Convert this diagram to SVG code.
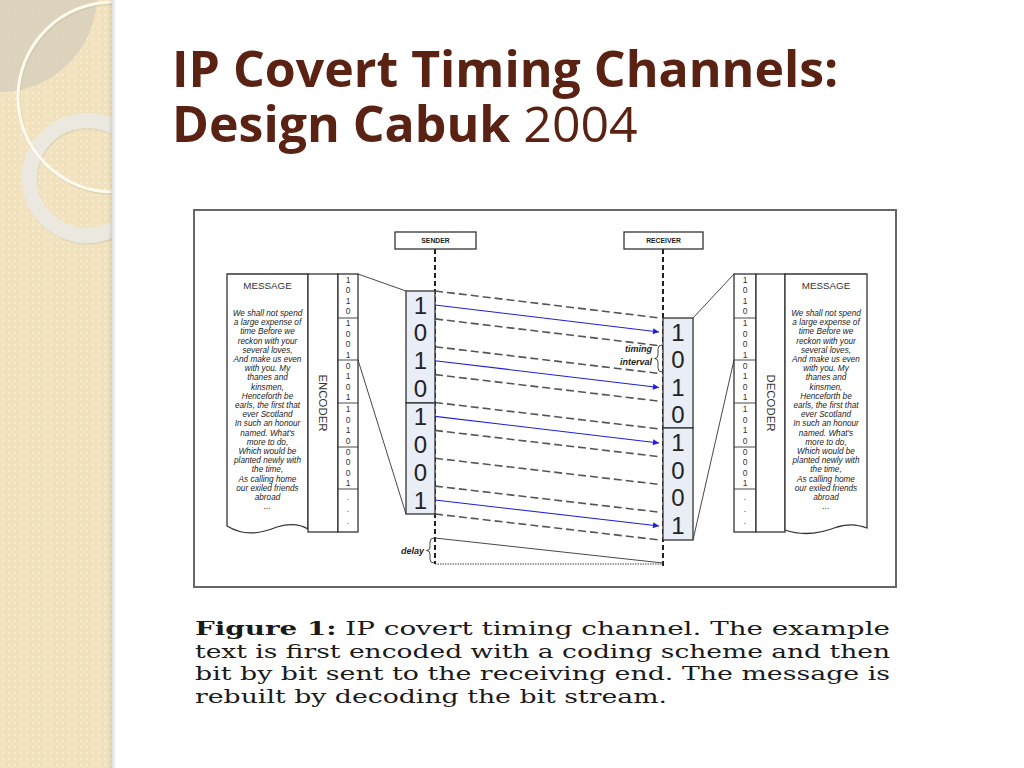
<svg xmlns="http://www.w3.org/2000/svg" width="1024" height="768" viewBox="0 0 1024 768">
<defs>
  <pattern id="tex" width="6" height="6" patternUnits="userSpaceOnUse">
    <rect width="6" height="6" fill="#f1e2bd"/>
    <circle cx="3" cy="3" r="1.3" fill="#f6ebd0"/>
  </pattern>
  <linearGradient id="edge" x1="0" y1="0" x2="1" y2="0">
    <stop offset="0" stop-color="#000" stop-opacity="0"/>
    <stop offset="0.6" stop-color="#000" stop-opacity="0.12"/>
    <stop offset="1" stop-color="#000" stop-opacity="0"/>
  </linearGradient>
  <clipPath id="side"><rect x="0" y="0" width="112" height="768"/></clipPath>
  <marker id="arr" viewBox="0 0 10 10" refX="10" refY="5" markerWidth="8" markerHeight="6" markerUnits="userSpaceOnUse" orient="auto">
    <path d="M0,0 L10,5 L0,10 Z" fill="#1f1fe0"/>
  </marker>
  <style>
    .title{font-family:"Open Sans","Noto Sans",sans-serif;font-weight:700;font-size:50px;fill:#5a2213}
    .box{fill:#fff;stroke:#333;stroke-width:1.3}
    .big{fill:#e9edf6;stroke:#333;stroke-width:1.3}
    .lbl{font-family:"Liberation Sans",Arial,sans-serif;font-weight:700;font-size:6.8px;fill:#222;text-anchor:middle}
    .msgh{font-family:"Liberation Sans",Arial,sans-serif;font-size:9.8px;fill:#333;text-anchor:middle}
    .msg{font-family:"Liberation Sans",Arial,sans-serif;font-style:italic;font-size:8.2px;fill:#222;text-anchor:middle}
    .bit{font-family:"Liberation Sans",Arial,sans-serif;font-size:8.5px;fill:#333;text-anchor:middle}
    .bigbit{font-family:"Liberation Sans",Arial,sans-serif;font-size:24px;fill:#222;text-anchor:middle}
    .rot{font-family:"Liberation Sans",Arial,sans-serif;font-size:10.5px;fill:#333;text-anchor:middle}
    .note{font-family:"Liberation Sans",Arial,sans-serif;font-style:italic;font-weight:700;font-size:9px;fill:#222}
    .vline{stroke:#222;stroke-width:2;stroke-dasharray:5 3;fill:none}
    .pkt{stroke:#555;stroke-width:1.6;stroke-dasharray:8 4;fill:none}
    .bl{stroke:#1f1fe0;stroke-width:1.1;fill:none}
    .thin{stroke:#333;stroke-width:0.9;fill:none}
    .cap{font-family:"DejaVu Serif","Liberation Serif",serif;font-size:18px;fill:#1a1a1a}
  </style>
</defs>

<!-- background -->
<rect width="1024" height="768" fill="#fff"/>
<g id="sidebar" clip-path="url(#side)">
  <rect x="0" y="0" width="112" height="768" fill="url(#tex)"/>
  <circle cx="0" cy="-5" r="97" fill="#d9cfbc" opacity="0.85"/>
  <circle cx="87" cy="178" r="57.5" fill="none" stroke="#c9c1ae" stroke-width="15" opacity="0.4" transform="translate(1,1.5)"/>
  <circle cx="87" cy="178" r="57.5" fill="none" stroke="#ebe8df" stroke-width="15"/>
  <circle cx="113" cy="97" r="95" fill="none" stroke="#c8bfa8" stroke-width="3" opacity="0.5" transform="translate(1,1.5)"/>
  <circle cx="113" cy="97" r="95" fill="none" stroke="#fffaee" stroke-width="3"/>
</g>
<rect x="108" y="0" width="8" height="768" fill="url(#edge)"/>

<!-- title -->
<g id="title">
  <text class="title" x="172" y="87">IP Covert Timing Channels:</text>
  <text class="title" x="172" y="142">Design Cabuk <tspan font-weight="400">2004</tspan></text>
</g>

<!-- figure frame -->
<rect x="194" y="210" width="702" height="377" fill="#fff" stroke="#666" stroke-width="2"/>

<g id="connectors">
  <line class="vline" x1="435" y1="249" x2="435" y2="564"/>
  <line class="vline" x1="663" y1="249" x2="663" y2="567"/>
  <line class="pkt" x1="435" y1="291" x2="660" y2="318"/>
  <line class="pkt" x1="435" y1="318.9" x2="660" y2="345.75"/>
  <line class="pkt" x1="435" y1="346.75" x2="660" y2="373.5"/>
  <line class="pkt" x1="435" y1="374.6" x2="660" y2="401.25"/>
  <line class="pkt" x1="435" y1="402.5" x2="660" y2="429"/>
  <line class="pkt" x1="435" y1="430.4" x2="660" y2="456.75"/>
  <line class="pkt" x1="435" y1="458.25" x2="660" y2="484.5"/>
  <line class="pkt" x1="435" y1="486.1" x2="660" y2="512.25"/>
  <line class="pkt" x1="435" y1="514" x2="660" y2="540"/>
  <line class="bl" x1="435" y1="305" x2="659" y2="332" marker-end="url(#arr)"/>
  <line class="bl" x1="435" y1="360.7" x2="659" y2="387.5" marker-end="url(#arr)"/>
  <line class="bl" x1="435" y1="416.4" x2="659" y2="443" marker-end="url(#arr)"/>
  <line class="bl" x1="435" y1="500" x2="659" y2="526" marker-end="url(#arr)"/>
  <line class="thin" x1="435" y1="538" x2="663" y2="563"/>
  <line x1="435" y1="564" x2="663" y2="564" stroke="#444" stroke-width="1" stroke-dasharray="1.5 1"/>
  <line class="thin" x1="358" y1="274" x2="406" y2="291" stroke-width="1.1"/>
  <line class="thin" x1="358" y1="360" x2="406" y2="514" stroke-width="1.1"/>
  <line class="thin" x1="693" y1="318" x2="734" y2="274" stroke-width="1.1"/>
  <line class="thin" x1="693" y1="540" x2="734" y2="360" stroke-width="1.1"/>
  <path class="thin" stroke-width="1.1" d="M662,345 Q658,345 658,349 V355 Q658,358.5 654.5,358.5 Q658,358.5 658,362 V368 Q658,372 662,372"/>
  <path class="thin" stroke-width="1.1" d="M434,538 Q430,538 430,542 V547 Q430,550.5 426.5,550.5 Q430,550.5 430,554 V559 Q430,563 434,563"/>
</g>

<g id="sender">
  <rect class="box" x="395" y="232" width="81" height="17"/>
  <text class="lbl" x="435.5" y="243">SENDER</text>
</g>
<g id="receiver">
  <rect class="box" x="624" y="232" width="79" height="17"/>
  <text class="lbl" x="663.5" y="243">RECEIVER</text>
</g>

<g id="msg-left">
  <path class="box" d="M227,274 H308 V529 C300,524 290,523 277,527 C262,533 245,537 227,526 Z"/>
  <text class="msgh" x="267.5" y="288.5">MESSAGE</text>
  <g class="msg">
    <text x="267.5" y="316">We shall not spend</text>
    <text x="267.5" y="325.2">a large expense of</text>
    <text x="267.5" y="334.4">time Before we</text>
    <text x="267.5" y="343.6">reckon with your</text>
    <text x="267.5" y="352.8">several loves,</text>
    <text x="267.5" y="362">And make us even</text>
    <text x="267.5" y="371.2">with you. My</text>
    <text x="267.5" y="380.4">thanes and</text>
    <text x="267.5" y="389.6">kinsmen,</text>
    <text x="267.5" y="398.8">Henceforth be</text>
    <text x="267.5" y="408">earls, the first that</text>
    <text x="267.5" y="417.2">ever Scotland</text>
    <text x="267.5" y="426.4">In such an honour</text>
    <text x="267.5" y="435.6">named. What's</text>
    <text x="267.5" y="444.8">more to do,</text>
    <text x="267.5" y="454">Which would be</text>
    <text x="267.5" y="463.2">planted newly with</text>
    <text x="267.5" y="472.4">the time,</text>
    <text x="267.5" y="481.6">As calling home</text>
    <text x="267.5" y="490.8">our exiled friends</text>
    <text x="267.5" y="500">abroad</text>
    <text x="267.5" y="509.2">...</text>
  </g>
</g>

<g id="encoder">
  <rect class="box" x="308" y="274" width="30" height="258"/>
  <text class="rot" transform="translate(323,403) rotate(90)" y="3.7" textLength="57" lengthAdjust="spacingAndGlyphs">ENCODER</text>
</g>

<g id="bits-left">
  <rect class="box" x="338" y="274" width="20" height="258"/>
  <line class="thin" x1="338" y1="318" x2="358" y2="318"/>
  <line class="thin" x1="338" y1="360" x2="358" y2="360"/>
  <line class="thin" x1="338" y1="403" x2="358" y2="403"/>
  <line class="thin" x1="338" y1="447" x2="358" y2="447"/>
  <line class="thin" x1="338" y1="489" x2="358" y2="489"/>
  <g class="bit">
    <text x="348" y="282.5">1</text><text x="348" y="293">0</text><text x="348" y="303.5">1</text><text x="348" y="314">0</text>
    <text x="348" y="326">1</text><text x="348" y="336.5">0</text><text x="348" y="347">0</text><text x="348" y="357.5">1</text>
    <text x="348" y="368.5">0</text><text x="348" y="379">1</text><text x="348" y="389.5">0</text><text x="348" y="400">1</text>
    <text x="348" y="412">1</text><text x="348" y="422.5">0</text><text x="348" y="433">1</text><text x="348" y="443.5">0</text>
    <text x="348" y="454.5">0</text><text x="348" y="465">0</text><text x="348" y="475.5">0</text><text x="348" y="486">1</text>
    <text x="348" y="500">.</text><text x="348" y="512">.</text><text x="348" y="524">.</text>
  </g>
</g>

<g id="sender-bits">
  <rect class="big" x="406" y="291" width="29" height="112"/>
  <rect class="big" x="406" y="403" width="29" height="111"/>
  <g class="bigbit">
    <text x="420.5" y="313.5">1</text><text x="420.5" y="341">0</text><text x="420.5" y="368.5">1</text><text x="420.5" y="396.5">0</text>
    <text x="420.5" y="425">1</text><text x="420.5" y="452.5">0</text><text x="420.5" y="480.5">0</text><text x="420.5" y="508.5">1</text>
  </g>
</g>

<g id="receiver-bits">
  <rect class="big" x="663" y="318" width="30" height="110"/>
  <rect class="big" x="663" y="428" width="30" height="112"/>
  <g class="bigbit">
    <text x="678" y="340.5">1</text><text x="678" y="368">0</text><text x="678" y="395.5">1</text><text x="678" y="423">0</text>
    <text x="678" y="450.5">1</text><text x="678" y="478.5">0</text><text x="678" y="505.5">0</text><text x="678" y="533.5">1</text>
  </g>
</g>

<g id="bits-right">
  <rect class="box" x="734" y="274" width="22" height="258"/>
  <line class="thin" x1="734" y1="318" x2="756" y2="318"/>
  <line class="thin" x1="734" y1="360" x2="756" y2="360"/>
  <line class="thin" x1="734" y1="403" x2="756" y2="403"/>
  <line class="thin" x1="734" y1="447" x2="756" y2="447"/>
  <line class="thin" x1="734" y1="489" x2="756" y2="489"/>
  <g class="bit">
    <text x="745" y="282.5">1</text><text x="745" y="293">0</text><text x="745" y="303.5">1</text><text x="745" y="314">0</text>
    <text x="745" y="326">1</text><text x="745" y="336.5">0</text><text x="745" y="347">0</text><text x="745" y="357.5">1</text>
    <text x="745" y="368.5">0</text><text x="745" y="379">1</text><text x="745" y="389.5">0</text><text x="745" y="400">1</text>
    <text x="745" y="412">1</text><text x="745" y="422.5">0</text><text x="745" y="433">1</text><text x="745" y="443.5">0</text>
    <text x="745" y="454.5">0</text><text x="745" y="465">0</text><text x="745" y="475.5">0</text><text x="745" y="486">1</text>
    <text x="745" y="500">.</text><text x="745" y="512">.</text><text x="745" y="524">.</text>
  </g>
</g>

<g id="decoder">
  <rect class="box" x="756" y="274" width="29" height="258"/>
  <text class="rot" transform="translate(770.5,403) rotate(90)" y="3.7" textLength="57" lengthAdjust="spacingAndGlyphs">DECODER</text>
</g>

<g id="msg-right">
  <path class="box" d="M785,274 H867 V528 C855,524 848,524 837,527 C822,533 805,537 785,530 Z"/>
  <text class="msgh" x="826" y="288.5">MESSAGE</text>
  <g class="msg">
    <text x="826" y="316">We shall not spend</text>
    <text x="826" y="325.2">a large expense of</text>
    <text x="826" y="334.4">time Before we</text>
    <text x="826" y="343.6">reckon with your</text>
    <text x="826" y="352.8">several loves,</text>
    <text x="826" y="362">And make us even</text>
    <text x="826" y="371.2">with you. My</text>
    <text x="826" y="380.4">thanes and</text>
    <text x="826" y="389.6">kinsmen,</text>
    <text x="826" y="398.8">Henceforth be</text>
    <text x="826" y="408">earls, the first that</text>
    <text x="826" y="417.2">ever Scotland</text>
    <text x="826" y="426.4">In such an honour</text>
    <text x="826" y="435.6">named. What's</text>
    <text x="826" y="444.8">more to do,</text>
    <text x="826" y="454">Which would be</text>
    <text x="826" y="463.2">planted newly with</text>
    <text x="826" y="472.4">the time,</text>
    <text x="826" y="481.6">As calling home</text>
    <text x="826" y="490.8">our exiled friends</text>
    <text x="826" y="500">abroad</text>
    <text x="826" y="509.2">...</text>
  </g>
</g>

<g id="labels">
  <text class="note" x="652" y="352" text-anchor="end">timing</text>
  <text class="note" x="652" y="365" text-anchor="end">interval</text>
  <text class="note" x="424" y="554" text-anchor="end">delay</text>
</g>

<g id="caption">
  <text class="cap" x="195" y="635" textLength="695" lengthAdjust="spacingAndGlyphs"><tspan font-weight="700">Figure 1:</tspan> IP covert timing channel.  The example</text>
  <text class="cap" x="195" y="657.5" textLength="695" lengthAdjust="spacingAndGlyphs">text is first encoded with a coding scheme and then</text>
  <text class="cap" x="195" y="680" textLength="695" lengthAdjust="spacingAndGlyphs">bit by bit sent to the receiving end. The message is</text>
  <text class="cap" x="195" y="702.5" textLength="472" lengthAdjust="spacingAndGlyphs">rebuilt by decoding the bit stream.</text>
</g>
</svg>
